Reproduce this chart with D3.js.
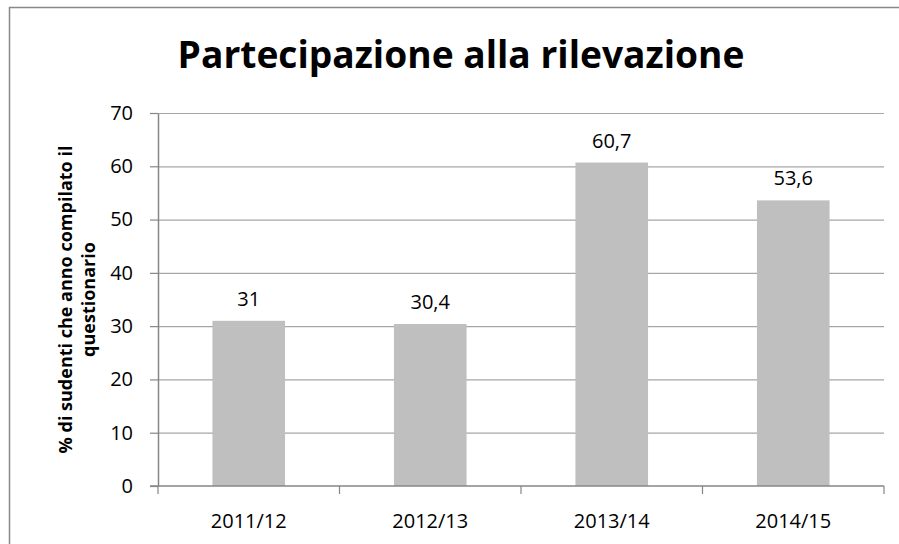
<!DOCTYPE html>
<html>
<head>
<meta charset="utf-8">
<script src="https://cdn.jsdelivr.net/npm/d3@7"></script>
<style>
  body { margin: 0; background: #fff; overflow: hidden; }
  text { font-family: "Open Sans", "Noto Sans", sans-serif; }
</style>
</head>
<body>
<div id="chart"></div>
<script>
const width = 899, height = 544;

const years = ["2011/12", "2012/13", "2013/14", "2014/15"];
const values = [31, 30.4, 60.7, 53.6];
const yTicks = [0, 10, 20, 30, 40, 50, 60, 70];

const titleText = "Partecipazione alla rilevazione";
const yLabelLines = ["% di sudenti che anno compilato il", "questionario"];

const margin = {top: 113, right: 15, bottom: 58, left: 158};

let svg = d3.select("#chart").append("svg")
    .attr("width", width)
    .attr("height", height)
    .style("display", "block");

// outer chart frame (only top and left edges fall inside the picture)
svg.append("rect")
    .attr("x", 9.5)
    .attr("y", 7.5)
    .attr("width", width + 20)
    .attr("height", height + 20)
    .attr("fill", "none")
    .attr("stroke", "#888")
    .attr("stroke-width", 1.5);

let x = d3.scaleBand()
    .domain(years)
    .range([margin.left, width - margin.right])
    .paddingInner(0.6)
    .paddingOuter(0.3);

let xEdges = d3.scaleLinear()
    .domain([0, years.length])
    .range([margin.left, width - margin.right]);

let y = d3.scaleLinear()
    .domain([0, 70])
    .range([height - margin.bottom, margin.top]);

// gridlines
svg.append("g")
    .selectAll("line")
    .data(yTicks.filter(d => d > 0))
    .join("line")
        .attr("x1", margin.left)
        .attr("x2", width - margin.right)
        .attr("y1", d => y(d) + 0.5)
        .attr("y2", d => y(d) + 0.5)
        .attr("stroke", "#a6a6a6")
        .attr("stroke-width", 1.2);

// bars
svg.append("g")
    .selectAll("rect")
    .data(values)
    .join("rect")
        .attr("x", (d, i) => x(years[i]))
        .attr("width", x.bandwidth())
        .attr("y", d => y(d))
        .attr("height", d => y(0) - y(d))
        .attr("fill", "#bfbfbf");

// value labels
svg.append("g")
    .attr("font-size", 20)
    .attr("text-anchor", "middle")
    .selectAll("text")
    .data(values)
    .join("text")
        .attr("x", (d, i) => x(years[i]) + x.bandwidth() / 2)
        .attr("y", d => y(d) - 15)
        .attr("fill", "#000")
        .text(d => String(d).replace(".", ","));

// y axis
let yAxis = svg.append("g")
    .attr("transform", `translate(${margin.left},0)`)
    .call(d3.axisLeft(y).tickValues(yTicks).tickSize(8).tickPadding(17).tickSizeOuter(0));
yAxis.select(".domain").attr("stroke", "#868686").attr("stroke-width", 1.5);
yAxis.selectAll(".tick line").attr("stroke", "#868686").attr("stroke-width", 1.2);
yAxis.selectAll(".tick line").attr("x1", 0);
yAxis.selectAll(".tick text")
    .attr("font-size", 20)
    .attr("font-family", "\"Open Sans\", sans-serif")
    .attr("fill", "#000");

// x axis
let xAxisG = svg.append("g")
    .attr("transform", `translate(0,${y(0)})`);
xAxisG.append("line")
    .attr("x1", margin.left - 8)
    .attr("x2", width - margin.right)
    .attr("stroke", "#868686")
    .attr("stroke-width", 1.5);
xAxisG.selectAll(".xtick")
    .data(d3.range(years.length + 1))
    .join("line")
        .attr("class", "xtick")
        .attr("x1", d => xEdges(d))
        .attr("x2", d => xEdges(d))
        .attr("y1", 0)
        .attr("y2", 8)
        .attr("stroke", "#868686")
        .attr("stroke-width", 1.2);
xAxisG.selectAll(".xlab")
    .data(years)
    .join("text")
        .attr("class", "xlab")
        .attr("x", d => x(d) + x.bandwidth() / 2)
        .attr("y", 42)
        .attr("text-anchor", "middle")
        .attr("font-size", 20)
        .attr("fill", "#000")
        .text(d => d);

// y axis title
let plotMid = (y(0) + y(70)) / 2;
svg.append("text")
    .attr("transform", `translate(72,${plotMid}) rotate(-90)`)
    .attr("text-anchor", "middle")
    .attr("font-size", 18)
    .attr("font-weight", "bold")
    .selectAll("tspan")
    .data(yLabelLines)
    .join("tspan")
        .attr("x", 0)
        .attr("dy", (d, i) => i == 0 ? 0 : 23)
        .text(d => d);

// chart title
let title = svg.append("text")
    .attr("x", 461)
    .attr("y", 68)
    .attr("text-anchor", "middle")
    .attr("font-size", 34)
    .attr("font-weight", "bold")
    .text(titleText);
let tw = title.node().getComputedTextLength();
title.attr("font-size", 34 * 567 / tw);
</script>
</body>
</html>
